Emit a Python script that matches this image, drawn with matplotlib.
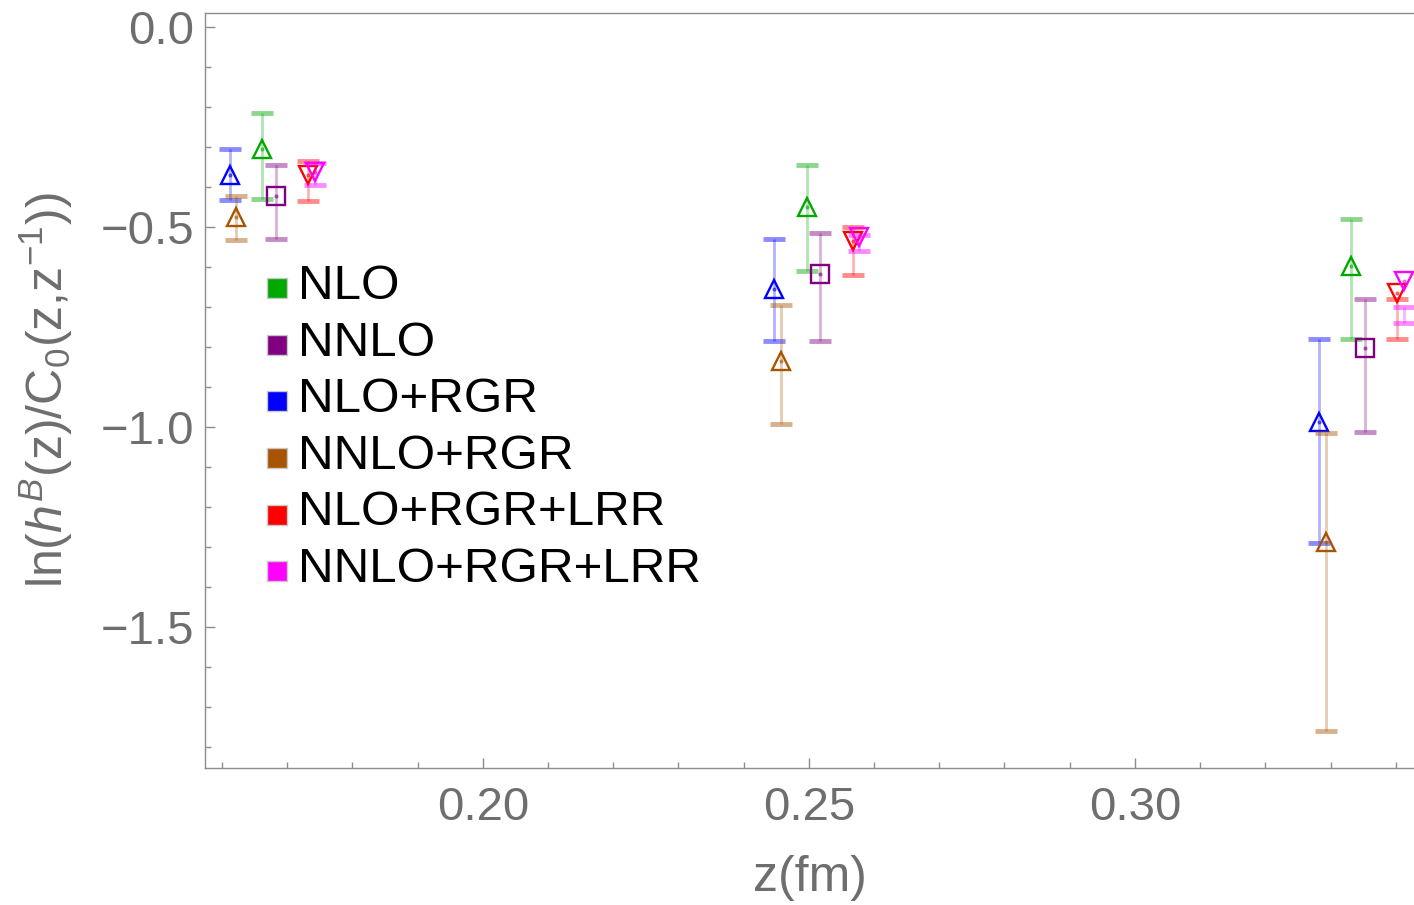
import matplotlib
matplotlib.use('Agg')
import matplotlib.pyplot as plt
from matplotlib.ticker import MultipleLocator, FormatStrFormatter, FuncFormatter

plt.rcParams['font.family'] = ['Liberation Sans', 'DejaVu Sans']
plt.rcParams['mathtext.fontset'] = 'custom'
plt.rcParams['mathtext.rm'] = 'Liberation Sans'
plt.rcParams['mathtext.it'] = 'Liberation Sans:italic'

# z positions (fm), central value, lower and upper end of each error bar
nlo_z = [0.1662, 0.2497, 0.3332]
nlo_val = [-0.306, -0.451, -0.598]
nlo_lo = [-0.432, -0.612, -0.780]
nlo_hi = [-0.215, -0.345, -0.482]

nnlo_z = [0.1683, 0.2517, 0.3353]
nnlo_val = [-0.423, -0.618, -0.803]
nnlo_lo = [-0.532, -0.786, -1.012]
nnlo_hi = [-0.347, -0.515, -0.682]

nlo_rgr_z = [0.1612, 0.2447, 0.3283]
nlo_rgr_val = [-0.370, -0.657, -0.989]
nlo_rgr_lo = [-0.433, -0.787, -1.290]
nlo_rgr_hi = [-0.307, -0.531, -0.782]

nnlo_rgr_z = [0.1622, 0.2458, 0.3293]
nnlo_rgr_val = [-0.476, -0.836, -1.289]
nnlo_rgr_lo = [-0.533, -0.993, -1.760]
nnlo_rgr_hi = [-0.423, -0.697, -1.015]

nlo_lrr_z = [0.1732, 0.2568, 0.3402]
nlo_lrr_val = [-0.370, -0.537, -0.667]
nlo_lrr_lo = [-0.435, -0.621, -0.782]
nlo_lrr_hi = [-0.336, -0.500, -0.682]

nnlo_lrr_z = [0.1742, 0.2577, 0.3413]
nnlo_lrr_val = [-0.363, -0.527, -0.636]
nnlo_lrr_lo = [-0.396, -0.562, -0.742]
nnlo_lrr_hi = [-0.341, -0.522, -0.702]

labels = ['NLO', 'NNLO', 'NLO+RGR', 'NNLO+RGR', 'NLO+RGR+LRR', 'NNLO+RGR+LRR']
colors = ['#00a800', '#800080', '#0000ff', '#a85400', '#ff0000', '#ff00ff']
markers = ['^', 's', '^', '^', 'v', 'v']

series = [
    (nlo_z, nlo_val, nlo_lo, nlo_hi),
    (nnlo_z, nnlo_val, nnlo_lo, nnlo_hi),
    (nlo_rgr_z, nlo_rgr_val, nlo_rgr_lo, nlo_rgr_hi),
    (nnlo_rgr_z, nnlo_rgr_val, nnlo_rgr_lo, nnlo_rgr_hi),
    (nlo_lrr_z, nlo_lrr_val, nlo_lrr_lo, nlo_lrr_hi),
    (nnlo_lrr_z, nnlo_lrr_val, nnlo_lrr_lo, nnlo_lrr_hi),
]

fig = plt.figure(figsize=(14.14, 9.05), dpi=100)
ax = fig.add_axes([205 / 1414, 137 / 905, 1209 / 1414, 755 / 905])

for (z, val, lo, hi), c, m in zip(series, colors, markers):
    ax.vlines(z, lo, hi, colors=c, alpha=0.3, lw=2)
    ax.plot(z, lo, ls='none', marker='_', ms=16, mew=3.5, color=c, alpha=0.45)
    ax.plot(z, hi, ls='none', marker='_', ms=16, mew=3.5, color=c, alpha=0.45)
    ax.plot(z, val, ls='none', marker=m, ms=13.5, mfc='none', mec=c, mew=1.7)
    ax.plot(z, val, ls='none', marker='o', ms=2, color=c, alpha=0.5)

# legend drawn by hand: coloured squares with black labels
for i, (lab, c) in enumerate(zip(labels, colors)):
    yb = (768 - (299 + 56.5 * i)) / 755
    ax.plot([0.0592], [yb + 10.5 / 755], transform=ax.transAxes, marker='s',
            ms=15, mfc=c, mec='#c8c8c8', mew=1, ls='none', clip_on=False)
    ax.text(0.0770, yb, lab, transform=ax.transAxes, fontsize=35.6,
            color='black', va='baseline', ha='left')

ax.set_xlim(0.1574, 0.3428)
ax.set_ylim(-1.853, 0.034)

ax.xaxis.set_major_locator(MultipleLocator(0.05))
ax.xaxis.set_minor_locator(MultipleLocator(0.01))
ax.xaxis.set_major_formatter(FormatStrFormatter('%.2f'))
ax.yaxis.set_major_locator(MultipleLocator(0.5))
ax.yaxis.set_minor_locator(MultipleLocator(0.1))
ax.yaxis.set_major_formatter(
    FuncFormatter(lambda v, pos: f'{v:.1f}'.replace('-', '\u2212')))

gray = '#6e6e6e'
for s in ['left', 'bottom', 'top']:
    ax.spines[s].set_color('#8c8c8c')
    ax.spines[s].set_linewidth(1)
ax.spines['right'].set_visible(False)

ax.tick_params(which='both', direction='in', colors='#8c8c8c',
               labelcolor=gray, labelsize=34, top=False, right=False)
ax.tick_params(which='major', length=7, width=1)
ax.tick_params(which='minor', length=4, width=1)
ax.tick_params(axis='x', pad=13)
ax.tick_params(axis='y', pad=8)

ax.set_xlabel('z(fm)', fontsize=36, color=gray, labelpad=18)
ax.set_ylabel(r'ln($h^B$(z)/C$_0$(z,z$^{-1}$))', fontsize=36, color=gray,
              labelpad=18)

fig.savefig('out.png', dpi=100)
